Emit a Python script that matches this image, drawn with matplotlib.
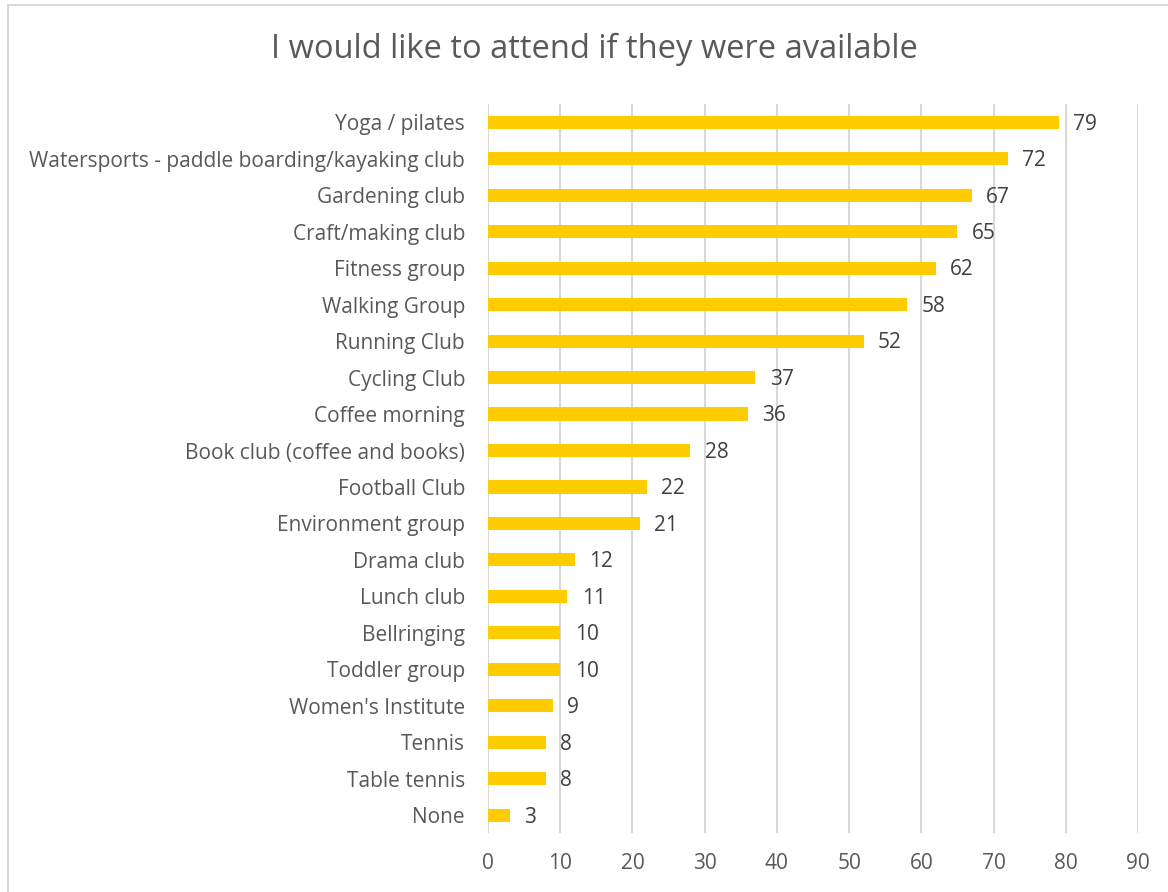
import matplotlib.pyplot as plt
from matplotlib.patches import Rectangle

activities = [
    "Yoga / pilates",
    "Watersports - paddle boarding/kayaking club",
    "Gardening club",
    "Craft/making club",
    "Fitness group",
    "Walking Group",
    "Running Club",
    "Cycling Club",
    "Coffee morning",
    "Book club (coffee and books)",
    "Football Club",
    "Environment group",
    "Drama club",
    "Lunch club",
    "Bellringing",
    "Toddler group",
    "Women's Institute",
    "Tennis",
    "Table tennis",
    "None",
]
counts = [79, 72, 67, 65, 62, 58, 52, 37, 36, 28, 22, 21, 12, 11, 10, 10, 9, 8, 8, 3]
xticks = list(range(0, 100, 10))

plt.rcParams['font.family'] = ['Open Sans', 'DejaVu Sans']
text_color = '#595959'
bar_color = '#FFCC00'
grid_color = '#D9D9D9'

fig = plt.figure(figsize=(11.68, 8.92), dpi=100)
ax = fig.add_axes([0.4178, 0.0656, 0.5565, 0.8178])

y = list(range(len(activities)))
ax.barh(y, counts, height=0.36, color=bar_color, zorder=3)
for yi, v in zip(y, counts):
    ax.text(v + 2.0, yi + 0.05, str(v), va='center', ha='left', fontsize=15, color='#404040')

ax.set_ylim(len(activities) - 0.5, -0.5)
ax.set_xlim(0, 90)
ax.set_yticks(y)
ax.set_yticklabels(activities, fontsize=15, color=text_color)
ax.set_xticks(xticks)
ax.set_xticklabels([str(t) for t in xticks], fontsize=15, color=text_color)
ax.tick_params(axis='both', length=0)
ax.tick_params(axis='x', pad=14)
ax.tick_params(axis='y', pad=16.5)
ax.grid(axis='x', color=grid_color, linewidth=1.5, zorder=0)
for s in ax.spines.values():
    s.set_visible(False)

fig.text(0.5086, 0.945, "I would like to attend if they were available",
         ha='center', va='center', fontsize=23.5, color=text_color)

# chart frame
fig.patches.append(Rectangle((8 / 1168, -0.01), 1.0, 1 - 5 / 892 + 0.01,
                             transform=fig.transFigure, fill=False,
                             edgecolor=grid_color, linewidth=1.5))

fig.savefig('out.png', dpi=100)
